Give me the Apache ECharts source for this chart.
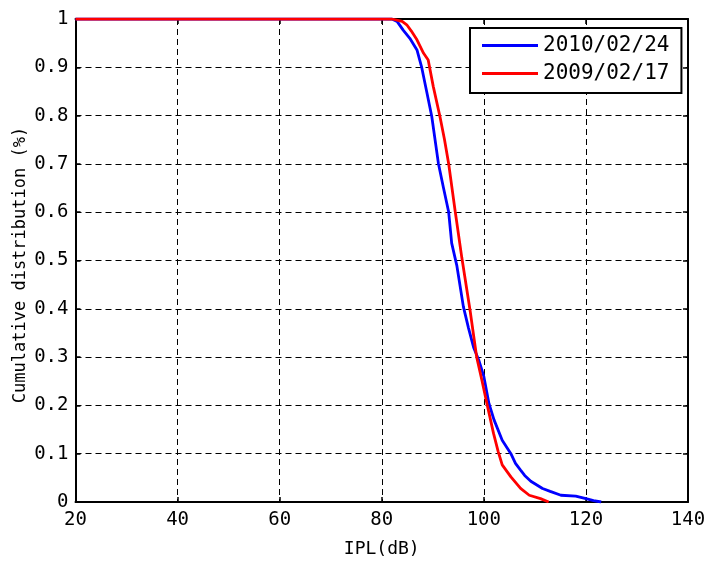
<!DOCTYPE html>
<html>
<head>
<meta charset="utf-8">
<script src="https://cdn.jsdelivr.net/npm/echarts@6/dist/echarts.min.js"></script>
<style>html,body{margin:0;padding:0;background:#fff}#c{width:707px;height:561px}</style>
</head>
<body>
<div id="c"></div>
<script>
// IPL (dB) vs cumulative distribution
const seriesNames = ['2010/02/24', '2009/02/17'];
const blueIPL = [20, 82, 83, 84.2, 85.5, 86.9, 87.8, 88.8, 89.8, 91.1, 92.1, 93.1, 93.7, 94.7, 96.0, 97.0, 98.0, 99.0, 100.0, 101.0, 102.0, 103.6, 105.3, 106.2, 107.2, 108.0, 109.2, 111.5, 113.0, 115.1, 118.0, 120.0, 121.5, 123.0];
const blueCDF = [1, 1, 0.995, 0.977, 0.96, 0.936, 0.901, 0.85, 0.798, 0.701, 0.65, 0.601, 0.536, 0.49, 0.404, 0.36, 0.32, 0.294, 0.26, 0.204, 0.17, 0.128, 0.10, 0.08, 0.066, 0.055, 0.043, 0.028, 0.022, 0.014, 0.012, 0.007, 0.003, 0];
const redIPL = [20, 82, 84.0, 84.9, 85.8, 86.9, 88.2, 89.1, 90.1, 91.4, 92.3, 93.1, 94.4, 95.7, 97.3, 98.6, 99.6, 100.6, 101.9, 102.8, 103.6, 105.3, 107.2, 108.9, 111.1, 112.7];
const redCDF = [1, 1, 0.995, 0.988, 0.975, 0.957, 0.929, 0.915, 0.86, 0.798, 0.75, 0.701, 0.601, 0.505, 0.397, 0.30, 0.253, 0.204, 0.142, 0.105, 0.077, 0.052, 0.028, 0.014, 0.007, 0];
const xTicks = [20, 40, 60, 80, 100, 120, 140];
const yTicks = [0, 0.1, 0.2, 0.3, 0.4, 0.5, 0.6, 0.7, 0.8, 0.9, 1];

const FONT = 'DejaVu Sans Mono';
const zip = (a, b) => a.map((v, i) => [v, b[i]]);
const gridLine = { show: true, lineStyle: { color: '#000', type: [6, 4], width: 1 } };
const axLine = { show: true, onZero: false, lineStyle: { color: '#000', width: 2 } };
const tick = { show: true, inside: true, length: 5, lineStyle: { color: '#000', width: 1.5 } };

const chart = echarts.init(document.getElementById('c'), null, { renderer: 'canvas' });
chart.setOption({
  animation: false,
  backgroundColor: '#fff',
  textStyle: { fontFamily: FONT },
  grid: { left: 75.5, right: 19, top: 19, bottom: 59, containLabel: false, outerBoundsMode: 'none' },
  legend: {
    left: 470, top: 28,
    orient: 'vertical',
    data: seriesNames,
    icon: 'rect',
    itemWidth: 56, itemHeight: 3, itemGap: 7,
    padding: [7, 12, 9, 12],
    borderColor: '#000', borderWidth: 2, backgroundColor: '#fff',
    textStyle: { fontFamily: FONT, fontSize: 21, color: '#000', lineHeight: 20 }
  },
  xAxis: [{
    type: 'value', min: xTicks[0], max: xTicks[xTicks.length - 1], interval: 20,
    name: 'IPL(dB)', nameLocation: 'middle', nameGap: 38, nameMoveOverlap: false,
    nameTextStyle: { fontFamily: FONT, fontSize: 18, color: '#000' },
    axisLine: axLine, axisTick: tick, splitLine: gridLine,
    axisLabel: { fontFamily: FONT, fontSize: 19, color: '#000', margin: 9 }
  }, {
    type: 'value', position: 'top', min: xTicks[0], max: xTicks[xTicks.length - 1], interval: 20,
    axisLine: axLine, axisTick: tick, splitLine: { show: false }, axisLabel: { show: false }
  }],
  yAxis: [{
    type: 'value', min: yTicks[0], max: yTicks[yTicks.length - 1], interval: 0.1,
    name: 'Cumulative distribution (%)', nameLocation: 'middle', nameGap: 46, nameMoveOverlap: false,
    nameTextStyle: { fontFamily: FONT, fontSize: 17, color: '#000', padding: [0, 9, 0, 0] },
    axisLine: axLine, axisTick: tick, splitLine: gridLine,
    axisLabel: { fontFamily: FONT, fontSize: 19, color: '#000', margin: 7 }
  }, {
    type: 'value', position: 'right', min: yTicks[0], max: yTicks[yTicks.length - 1], interval: 0.1,
    axisLine: axLine, axisTick: tick, splitLine: { show: false }, axisLabel: { show: false }
  }],
  series: [{
    name: seriesNames[0], type: 'line', data: zip(blueIPL, blueCDF),
    showSymbol: false, symbol: 'none', color: '#0000ff',
    lineStyle: { color: '#0000ff', width: 2.8 }, z: 3
  }, {
    name: seriesNames[1], type: 'line', data: zip(redIPL, redCDF),
    showSymbol: false, symbol: 'none', color: '#ff0000',
    lineStyle: { color: '#ff0000', width: 2.8 }, z: 4
  }]
});
</script>
</body>
</html>
